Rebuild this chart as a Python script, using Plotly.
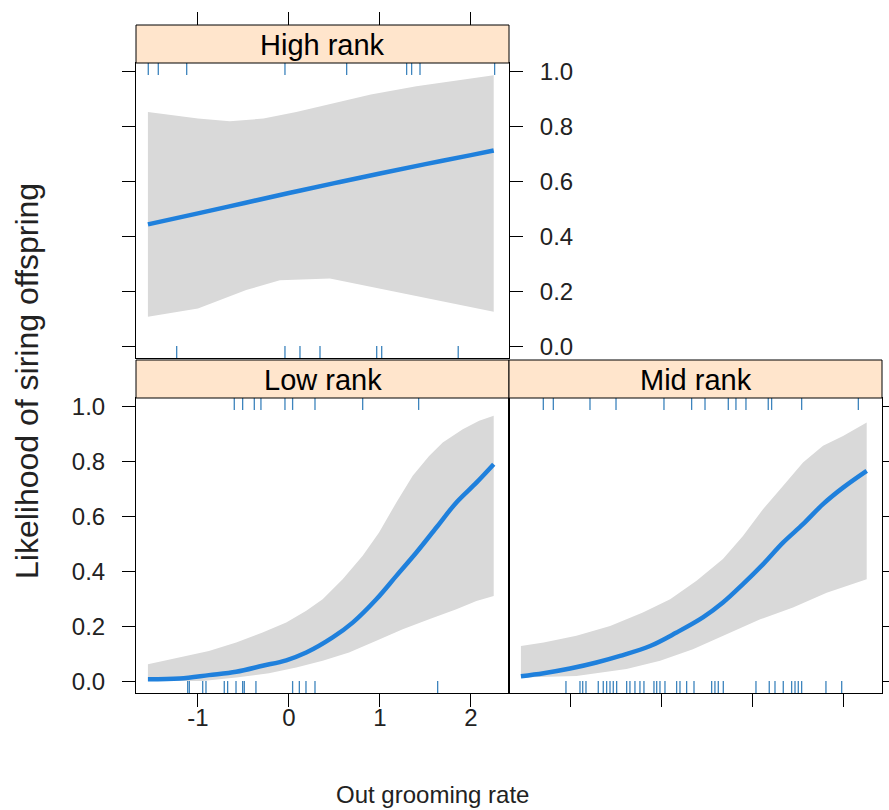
import plotly.graph_objects as go

W, H = 889, 810

# ---------------- data ----------------
strip_labels = ["High rank", "Low rank", "Mid rank"]
x_tick_vals = [-1, 0, 1, 2]
x_tick_text = ["-1", "0", "1", "2"]
y_tick_vals = [0.0, 0.2, 0.4, 0.6, 0.8, 1.0]
y_tick_text = ["0.0", "0.2", "0.4", "0.6", "0.8", "1.0"]

# High rank
high_x = [-1.55, -1.0, -0.5, 0.0, 0.5, 1.0, 1.5, 2.0, 2.25]
high_fit = [0.443, 0.483, 0.520, 0.557, 0.593, 0.628, 0.662, 0.695, 0.712]
high_up_x = [-1.55, -1.0, -0.65, -0.28, 0.08, 0.45, 0.9, 1.4, 1.9, 2.25]
high_up = [0.852, 0.828, 0.818, 0.828, 0.852, 0.880, 0.915, 0.945, 0.970, 0.985]
high_lo_x = [-1.55, -1.0, -0.47, -0.10, 0.45, 1.0, 1.55, 2.25]
high_lo = [0.107, 0.137, 0.204, 0.240, 0.246, 0.210, 0.173, 0.125]
high_rug_top = [-1.546, -1.436, -1.124, -0.044, 0.634, 1.293, 1.348, 1.44, 2.26]
high_rug_bottom = [-1.234, -0.044, 0.121, 0.341, 0.964, 1.019, 1.86]

# Low rank
low_x = [-1.55, -1.2, -0.88, -0.58, -0.29, -0.03, 0.19, 0.48, 0.70, 0.96,
         1.18, 1.40, 1.62, 1.84, 2.06, 2.25]
low_fit = [0.007, 0.010, 0.022, 0.034, 0.056, 0.076, 0.104, 0.159, 0.213, 0.298,
           0.383, 0.468, 0.559, 0.650, 0.722, 0.789]
low_up_x = [-1.55, -1.2, -0.88, -0.58, -0.29, -0.03, 0.19, 0.37, 0.59, 0.81,
            0.99, 1.18, 1.36, 1.54, 1.69, 1.91, 2.09, 2.25]
low_up = [0.062, 0.086, 0.110, 0.141, 0.177, 0.213, 0.256, 0.298, 0.371, 0.456,
          0.541, 0.650, 0.747, 0.819, 0.868, 0.916, 0.947, 0.965]
low_lo_x = [-1.55, -0.95, -0.58, -0.22, 0.08, 0.37, 0.66, 0.96, 1.25, 1.54,
            1.84, 2.06, 2.25]
low_lo = [0.001, 0.001, 0.013, 0.029, 0.050, 0.074, 0.104, 0.147, 0.189, 0.225,
          0.262, 0.292, 0.310]
low_rug_top = [-0.601, -0.509, -0.381, -0.308, -0.044, 0.040, 0.286, 0.810, 1.425]
low_rug_bottom = [-1.113, -1.095, -0.948, -0.912, -0.711, -0.674, -0.582, -0.509,
                  -0.491, -0.363, 0.040, 0.114, 0.187, 0.286, 1.634]

# Mid rank
mid_x = [-1.55, -1.30, -1.01, -0.72, -0.46, -0.13, 0.16, 0.45, 0.67, 0.89,
         1.11, 1.33, 1.55, 1.77, 1.99, 2.25]
mid_fit = [0.018, 0.029, 0.046, 0.068, 0.092, 0.128, 0.177, 0.232, 0.286, 0.353,
           0.425, 0.504, 0.571, 0.644, 0.704, 0.765]
mid_up_x = [-1.55, -1.30, -0.94, -0.57, -0.21, 0.09, 0.38, 0.67, 0.89, 1.11,
            1.33, 1.55, 1.77, 1.99, 2.25]
mid_up = [0.128, 0.141, 0.165, 0.201, 0.250, 0.298, 0.365, 0.444, 0.528, 0.625,
          0.710, 0.795, 0.856, 0.892, 0.941]
mid_lo_x = [-1.55, -0.94, -0.39, -0.02, 0.34, 0.71, 1.08, 1.44, 1.81, 2.25]
mid_lo = [0.013, 0.019, 0.044, 0.074, 0.116, 0.171, 0.225, 0.268, 0.322, 0.371]
mid_rug_top = [-1.304, -1.194, -0.791, -0.505, 0.022, 0.326, 0.473, 0.729, 0.813,
               0.923, 1.168, 1.205, 1.535, 2.158]
mid_rug_bottom = [-1.055, -0.901, -0.871, -0.835, -0.700, -0.645, -0.608, -0.571,
                  -0.535, -0.498, -0.388, -0.352, -0.297, -0.242, -0.198, -0.088,
                  -0.058, -0.022, 0.033, 0.161, 0.198, 0.271, 0.352, 0.546, 0.582,
                  0.619, 0.674, 1.033, 1.179, 1.242, 1.333, 1.425, 1.462, 1.498,
                  1.535, 1.802, 1.975]

# ---------------- styling / layout ----------------
FONT = "Liberation Sans, Arial, sans-serif"
LINE_COL = "#1f80dc"
BAND_COL = "#d9d9d9"
RUG_COL = "#3d84bd"
STRIP_COL = "#ffe5cc"
X_RANGE = [-1.681, 2.418]
Y_RANGE = [-0.043, 1.03]
RUG_TOP_Y = 1.012
RUG_BOT_Y = -0.025


def px_x(p):
    return p / W


def px_y(p):
    return 1 - p / H


# panel pixel boxes: (left, right, top, bottom)
panels = {
    "high": (136, 509, 63, 358),
    "low": (136, 509, 398, 693),
    "mid": (509, 882, 398, 693),
}
STRIP_H = 38

fig = go.Figure()

series = [
    ("high", "x", "y", high_x, high_fit, high_up_x, high_up, high_lo_x, high_lo,
     high_rug_top, high_rug_bottom),
    ("low", "x2", "y2", low_x, low_fit, low_up_x, low_up, low_lo_x, low_lo,
     low_rug_top, low_rug_bottom),
    ("mid", "x3", "y3", mid_x, mid_fit, mid_up_x, mid_up, mid_lo_x, mid_lo,
     mid_rug_top, mid_rug_bottom),
]

for name, xa, ya, fx, fy, ux, uy, lx, ly, rt, rb in series:
    band_x = list(ux) + list(reversed(lx))
    band_y = list(uy) + list(reversed(ly))
    fig.add_trace(go.Scatter(x=band_x, y=band_y, fill="toself", fillcolor=BAND_COL,
                             line=dict(width=0), mode="lines", xaxis=xa, yaxis=ya,
                             hoverinfo="skip", showlegend=False))
    fig.add_trace(go.Scatter(x=fx, y=fy, mode="lines",
                             line=dict(color=LINE_COL, width=4.5, shape="spline"),
                             xaxis=xa, yaxis=ya, showlegend=False))
    fig.add_trace(go.Scatter(x=rt, y=[RUG_TOP_Y] * len(rt), mode="markers",
                             marker=dict(symbol="line-ns", size=10,
                                         line=dict(color=RUG_COL, width=1.3)),
                             xaxis=xa, yaxis=ya, showlegend=False))
    fig.add_trace(go.Scatter(x=rb, y=[RUG_BOT_Y] * len(rb), mode="markers",
                             marker=dict(symbol="line-ns", size=10,
                                         line=dict(color=RUG_COL, width=1.3)),
                             xaxis=xa, yaxis=ya, showlegend=False))

# dummy trace for the free top axis above the High rank strip
fig.add_trace(go.Scatter(x=[None], y=[None], xaxis="x4", yaxis="y",
                         showlegend=False, hoverinfo="skip"))

tickfont = dict(family=FONT, size=24, color="#222")
common_x = dict(range=X_RANGE, tickvals=x_tick_vals, ticktext=x_tick_text,
                showgrid=False, zeroline=False,
                showline=True, linecolor="black", linewidth=1, mirror=True,
                ticklen=13, tickcolor="black", tickwidth=1, tickfont=tickfont,
                ticklabelstandoff=-10)
common_y = dict(range=Y_RANGE, tickvals=y_tick_vals, ticktext=y_tick_text,
                showgrid=False, zeroline=False, showline=True, linecolor="black",
                linewidth=1, mirror=True, ticklen=13, tickcolor="black",
                tickwidth=1, tickfont=tickfont, ticklabelstandoff=12)


def dom_x(name):
    l, r, t, b = panels[name]
    return [px_x(l), px_x(r)]


def dom_y(name):
    l, r, t, b = panels[name]
    return [px_y(b), px_y(t)]


fig.update_layout(
    width=W, height=H, margin=dict(l=0, r=0, t=0, b=0, autoexpand=False),
    paper_bgcolor="white", plot_bgcolor="white",
    font=dict(family=FONT, color="black"),
    showlegend=False,
    # High rank panel
    xaxis=dict(common_x, domain=dom_x("high"), anchor="y", ticks="",
               showticklabels=False),
    yaxis=dict(common_y, domain=dom_y("high"), anchor="x", side="right",
               ticks="outside", mirror="ticks", showticklabels=True),
    # Low rank panel
    xaxis2=dict(common_x, domain=dom_x("low"), anchor="y2", ticks="outside",
                showticklabels=True),
    yaxis2=dict(common_y, domain=dom_y("low"), anchor="x2", side="left",
                ticks="outside", showticklabels=True),
    # Mid rank panel
    xaxis3=dict(common_x, domain=dom_x("mid"), anchor="y3", ticks="outside",
                showticklabels=False),
    yaxis3=dict(common_y, domain=dom_y("mid"), anchor="x3", side="right",
                ticks="outside", showticklabels=False),
    # ticks on top of the High rank strip
    xaxis4=dict(range=X_RANGE, tickvals=x_tick_vals, overlaying="x", anchor="free",
                position=px_y(panels["high"][2] - STRIP_H), side="top",
                ticks="outside", ticklen=13, tickcolor="black", tickwidth=1,
                showticklabels=False, showgrid=False, zeroline=False,
                showline=False),
)

shapes = []
annotations = []
for name, label in zip(["high", "low", "mid"], strip_labels):
    l, r, t, b = panels[name]
    shapes.append(dict(type="rect", xref="paper", yref="paper",
                       x0=px_x(l), x1=px_x(r), y0=px_y(t), y1=px_y(t - STRIP_H),
                       fillcolor=STRIP_COL, line=dict(color="black", width=1),
                       layer="above"))
    annotations.append(dict(text=label, xref="paper", yref="paper",
                            x=px_x((l + r) / 2), y=px_y(t - STRIP_H / 2 + 1),
                            xanchor="center", yanchor="middle", showarrow=False,
                            font=dict(family=FONT, size=29, color="black")))

annotations.append(dict(text="Out grooming rate", xref="paper", yref="paper",
                        x=px_x(432), y=px_y(794), xanchor="center", yanchor="middle",
                        showarrow=False, font=dict(family=FONT, size=24, color="#222")))
annotations.append(dict(text="Likelihood of siring offspring", xref="paper",
                        yref="paper", x=px_x(27), y=px_y(381), xanchor="center",
                        yanchor="middle", textangle=-90, showarrow=False,
                        font=dict(family=FONT, size=32, color="#222")))

fig.update_layout(shapes=shapes, annotations=annotations)

fig.write_html("out.html", config={"displayModeBar": False},
               post_script="document.body.style.margin='0px';"
                           "document.body.style.padding='0px';")
